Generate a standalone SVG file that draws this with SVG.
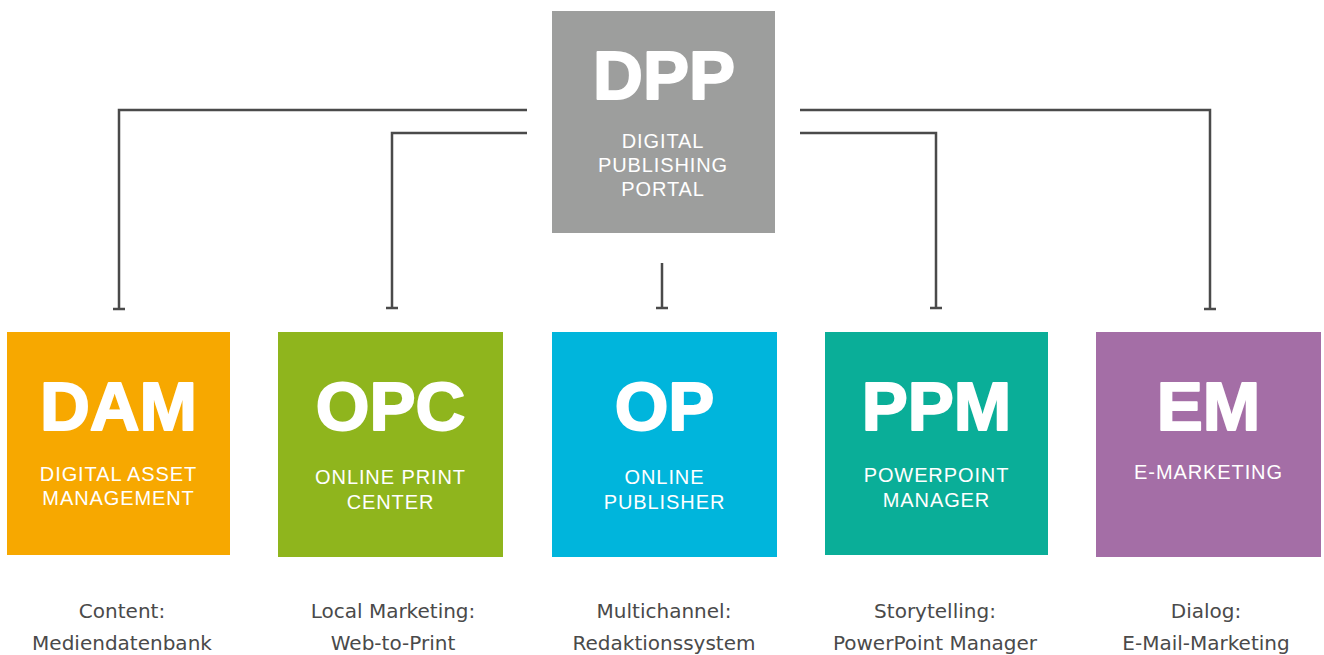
<svg xmlns="http://www.w3.org/2000/svg" width="1324" height="655" viewBox="0 0 1324 655">
<style>
.abbr{font-family:"Liberation Sans",Arial,sans-serif;font-weight:bold;font-size:69px;fill:#fff;stroke:#fff;stroke-width:2;stroke-linejoin:round;text-anchor:middle}
.sub{font-family:"Liberation Sans",Arial,sans-serif;font-size:20px;letter-spacing:0.9px;fill:#fff;text-anchor:middle}
.cap{font-family:"DejaVu Sans","Liberation Sans",sans-serif;font-size:20px;fill:#4a4a4a;text-anchor:middle}
.conn{fill:none;stroke:#4a4a4a;stroke-width:2.5}
</style>
<rect width="1324" height="655" fill="#fff"/>
<g id="connectors">
<path class="conn" d="M527 110 H119 V309 M113 309 H125"/>
<path class="conn" d="M527 133 H392 V308 M386 308 H398"/>
<path class="conn" d="M662 263 V308 M656 308 H668"/>
<path class="conn" d="M800 133 H936 V308 M930 308 H942"/>
<path class="conn" d="M800 110 H1210 V309 M1204 309 H1216"/>
</g>
<g id="dpp">
<rect x="552" y="11" width="223" height="222" fill="#9d9e9d"/>
<text class="abbr" x="664" y="99">DPP</text>
<text class="sub" x="663" y="148">DIGITAL</text>
<text class="sub" x="663" y="172">PUBLISHING</text>
<text class="sub" x="663" y="196">PORTAL</text>
</g>
<g id="dam">
<rect x="7" y="332" width="223" height="223" fill="#f7a800"/>
<text class="abbr" x="118.5" y="430">DAM</text>
<text class="sub" x="118.5" y="481">DIGITAL ASSET</text>
<text class="sub" x="118.5" y="505">MANAGEMENT</text>
<text class="cap" x="122" y="618">Content:</text>
<text class="cap" x="122" y="650">Mediendatenbank</text>
</g>
<g id="opc">
<rect x="278" y="332" width="225" height="225" fill="#8fb51d"/>
<text class="abbr" x="390.5" y="430">OPC</text>
<text class="sub" x="390.5" y="484">ONLINE PRINT</text>
<text class="sub" x="390.5" y="509">CENTER</text>
<text class="cap" x="393" y="618">Local Marketing:</text>
<text class="cap" x="393" y="650">Web-to-Print</text>
</g>
<g id="op">
<rect x="552" y="332" width="225" height="225" fill="#00b5dc"/>
<text class="abbr" x="664.5" y="430">OP</text>
<text class="sub" x="664.5" y="484">ONLINE</text>
<text class="sub" x="664.5" y="509">PUBLISHER</text>
<text class="cap" x="664" y="618">Multichannel:</text>
<text class="cap" x="664" y="650">Redaktionssystem</text>
</g>
<g id="ppm">
<rect x="825" y="332" width="223" height="223" fill="#0aae98"/>
<text class="abbr" x="936.5" y="430">PPM</text>
<text class="sub" x="936.5" y="482">POWERPOINT</text>
<text class="sub" x="936.5" y="507">MANAGER</text>
<text class="cap" x="935" y="618">Storytelling:</text>
<text class="cap" x="935" y="650">PowerPoint Manager</text>
</g>
<g id="em">
<rect x="1096" y="332" width="225" height="225" fill="#a46ea6"/>
<text class="abbr" x="1208.5" y="430">EM</text>
<text class="sub" x="1208.5" y="479">E-MARKETING</text>
<text class="cap" x="1206" y="618">Dialog:</text>
<text class="cap" x="1206" y="650">E-Mail-Marketing</text>
</g>
</svg>
